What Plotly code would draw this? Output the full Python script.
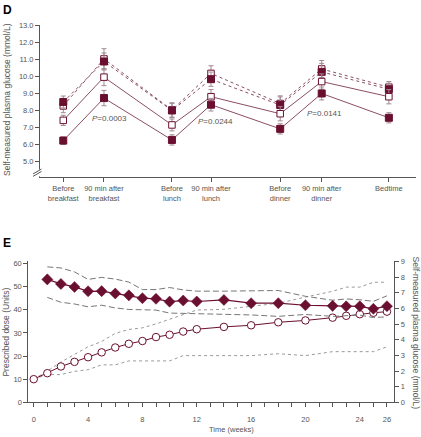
import plotly.graph_objects as go

# ---------------- Panel D data ----------------
meal_labels = ["Before<br>breakfast", "90 min after<br>breakfast", "Before<br>lunch",
               "90 min after<br>lunch", "Before<br>dinner", "90 min after<br>dinner", "Bedtime"]
meal_slot = [0, 1, 2.67, 3.63, 5.33, 6.35, 8.0]   # time-of-day scale positions

filled_solid = [6.22, 8.72, 6.26, 8.33, 6.91, 8.99, 7.56]
filled_solid_err = [0.22, 0.45, 0.30, 0.37, 0.30, 0.38, 0.30]
open_solid = [7.41, 9.95, 7.14, 8.80, 7.80, 9.69, 8.80]
open_solid_err = [0.30, 0.50, 0.35, 0.42, 0.42, 0.45, 0.42]
open_dashed = [8.26, 11.02, 8.02, 10.17, 8.40, 10.43, 9.36]
open_dashed_err = [0.40, 0.60, 0.42, 0.45, 0.45, 0.50, 0.33]
filled_dashed = [8.49, 10.87, 7.99, 9.83, 8.31, 10.26, 9.24]
filled_dashed_err = [0.35, 0.50, 0.42, 0.42, 0.48, 0.50, 0.35]

d_yticks = [5, 6, 7, 8, 9, 10, 11, 12, 13]
p_texts = ["<i>P</i>=0.0003", "<i>P</i>=0.0244", "<i>P</i>=0.0141"]
p_x = [0.66, 3.26, 5.93]
p_y = [7.52, 7.32, 7.82]

# ---------------- Panel E data ----------------
weeks_dose = [0, 1, 2, 3, 4, 5, 6, 7, 8, 9, 10, 11, 12, 14, 16, 18, 20, 22, 23, 24, 25, 26]
dose = [10, 12.6, 15.5, 17.5, 19.5, 21.6, 23.7, 25.3, 26.5, 28.2, 29.2, 30.6, 31.6,
        32.6, 33.3, 34.6, 35.4, 36.6, 37.4, 38.1, 38.7, 39.2]
dose_upper = [10, 13.5, 17.4, 20.7, 24.0, 26.3, 29.8, 31.5, 32.2, 33.9, 36.0, 38.1, 39.9,
              40.2, 41.5, 42.8, 45.5, 48.0, 49.8, 49.8, 51.9, 51.9]
dose_lower = [10, 12.0, 12.0, 13.4, 14.1, 16.2, 16.2, 17.9, 17.9, 17.9, 17.9, 20.2, 20.2,
              20.2, 20.2, 21.0, 20.2, 21.9, 21.9, 21.9, 21.9, 24.0]

weeks_glu = [1, 2, 3, 4, 5, 6, 7, 8, 9, 10, 11, 12, 14, 16, 18, 20, 22, 23, 24, 25, 26]
glucose = [7.85, 7.56, 7.37, 7.09, 7.10, 6.95, 6.83, 6.65, 6.61, 6.43, 6.50, 6.44,
           6.54, 6.33, 6.33, 6.20, 6.16, 6.13, 6.13, 5.97, 6.14]
glu_upper = [8.65, 8.58, 8.33, 7.85, 7.98, 7.87, 7.68, 7.20, 7.20, 7.33, 7.18, 7.10,
             7.10, 7.10, 7.14, 6.77, 6.52, 6.60, 6.55, 6.45, 6.80]
glu_lower = [6.70, 6.39, 6.28, 6.10, 6.20, 6.03, 5.93, 5.89, 5.89, 5.70, 5.68, 5.66,
             5.66, 5.58, 5.49, 5.61, 5.49, 5.52, 5.57, 5.41, 5.46]

e_xlabel_weeks = [0, 4, 8, 12, 16, 20, 24, 26]
e_week_ticks = list(range(0, 27))
dose_ticks = [0, 10, 20, 30, 40, 50, 60]
glu_ticks = [0, 1, 2, 3, 4, 5, 6, 7, 8, 9]

# ---------------- styles ----------------
MAROON = "#6a0f30"
LINE = "#7d3a52"
ERR = "#a08a93"
AX = "#555555"
TXT = "#555555"
FONT = "Liberation Sans, Arial, sans-serif"
W, H = 421, 437

def px(x):
    return x / W

def py(y):
    return 1 - y / H

fig = go.Figure()

def d_series(vals, errs, filled, dashed):
    fig.add_trace(go.Scatter(
        x=meal_slot, y=vals, mode="lines+markers",
        line=dict(color=LINE, width=0.9, dash="dot" if dashed else "solid"),
        marker=dict(symbol="square", size=7 if filled else 6.5,
                    color=MAROON if filled else "white",
                    line=dict(color=MAROON, width=1)),
        error_y=dict(type="data", array=errs, visible=True, color=ERR,
                     thickness=1, width=2.5),
        xaxis="x", yaxis="y", showlegend=False, hoverinfo="skip"))

d_series(open_dashed, open_dashed_err, False, True)
d_series(filled_dashed, filled_dashed_err, True, True)
d_series(open_solid, open_solid_err, False, False)
d_series(filled_solid, filled_solid_err, True, False)

# Panel E bands
fig.add_trace(go.Scatter(x=weeks_dose, y=dose_upper, mode="lines",
                         line=dict(color="#9a9a9a", width=1, dash="dot"),
                         xaxis="x2", yaxis="y2", showlegend=False))
fig.add_trace(go.Scatter(x=weeks_dose, y=dose_lower, mode="lines",
                         line=dict(color="#9a9a9a", width=1, dash="dot"),
                         xaxis="x2", yaxis="y2", showlegend=False))
fig.add_trace(go.Scatter(x=weeks_glu, y=glu_upper, mode="lines",
                         line=dict(color="#777777", width=1, dash="6px,3px"),
                         xaxis="x2", yaxis="y3", showlegend=False))
fig.add_trace(go.Scatter(x=weeks_glu, y=glu_lower, mode="lines",
                         line=dict(color="#777777", width=1, dash="6px,3px"),
                         xaxis="x2", yaxis="y3", showlegend=False))
fig.add_trace(go.Scatter(x=weeks_dose, y=dose, mode="lines+markers",
                         line=dict(color=MAROON, width=1),
                         marker=dict(symbol="circle", size=7.5, color="white",
                                     line=dict(color=MAROON, width=1)),
                         xaxis="x2", yaxis="y2", showlegend=False))
fig.add_trace(go.Scatter(x=weeks_glu, y=glucose, mode="lines+markers",
                         line=dict(color=MAROON, width=1.2),
                         marker=dict(symbol="diamond", size=8.5, color=MAROON,
                                     line=dict(color=MAROON, width=0.5)),
                         xaxis="x2", yaxis="y3", showlegend=False))

tickfont = dict(family=FONT, size=7.5, color=TXT)
common_axis = dict(showline=True, linecolor=AX, linewidth=1, ticks="outside",
                   tickcolor=AX, ticklen=4, tickwidth=1, showgrid=False,
                   zeroline=False, tickfont=tickfont)

fig.update_layout(
    width=W, height=H, margin=dict(l=0, r=0, t=0, b=0),
    paper_bgcolor="white", plot_bgcolor="white",
    font=dict(family=FONT, color=TXT),
    xaxis=dict(domain=[px(40), px(416)], range=[-0.572, 8.667], anchor="y",
               tickvals=meal_slot, ticktext=meal_labels, **common_axis),
    yaxis=dict(domain=[py(177), py(21.7)], range=[4.06, 13.0], anchor="x",
               tickvals=d_yticks, ticktext=["%.1f" % v for v in d_yticks],
               **common_axis),
    xaxis2=dict(domain=[px(28.3), px(394.3)], range=[-0.40, 26.54], anchor="y2",
                tickvals=e_week_ticks,
                ticktext=[str(w) if w in e_xlabel_weeks else "" for w in e_week_ticks],
                ticklabelstandoff=6, **common_axis),
    yaxis2=dict(domain=[py(406.7), py(262)], range=[0, 61.26], anchor="x2",
                tickvals=dose_ticks, **common_axis),
    yaxis3=dict(overlaying="y2", side="right", range=[0, 9.05], anchor="x2",
                tickvals=glu_ticks, **common_axis),
)

def label(text, x, y, size, color=TXT, angle=0, xanchor="center"):
    return dict(text=text, x=px(x), y=py(y), xref="paper", yref="paper",
                xanchor=xanchor, yanchor="middle", textangle=angle, showarrow=False,
                font=dict(family=FONT, size=size, color=color))

ann = [
    label("<b>D</b>", 1, 6.5, 12, "black", xanchor="left"),
    label("<b>E</b>", 1, 244, 12, "black", xanchor="left"),
    label("Self-measured plasma glucose (mmol/L)", 7, 98, 8.5, angle=-90),
    label("Prescribed dose (Units)", 6.5, 335, 8.5, angle=-90),
    label("Self-measured plasma glucose (mmol/L)", 415.5, 336, 8.5, angle=90),
    label("Time (weeks)", 231, 434.5, 7.5),
]
for t, xv, yv in zip(p_texts, p_x, p_y):
    ann.append(dict(text=t, x=xv, y=yv, xref="x", yref="y", xanchor="left",
                    yanchor="middle", showarrow=False,
                    font=dict(family=FONT, size=8, color=TXT)))
fig.update_layout(annotations=ann)

# axis break mark on panel D's y axis
shapes = [
    dict(type="rect", x0=px(37), x1=px(42), y0=py(176), y1=py(169), xref="paper",
         yref="paper", fillcolor="white", line=dict(width=0)),
    dict(type="line", x0=px(33), y0=py(173.5), x1=px(41.5), y1=py(168.5),
         xref="paper", yref="paper", line=dict(color=AX, width=1)),
    dict(type="line", x0=px(33), y0=py(176), x1=px(41.5), y1=py(171),
         xref="paper", yref="paper", line=dict(color=AX, width=1)),
]
fig.update_layout(shapes=shapes)

# remove the browser's default 8px body margin so the figure sits at the page origin
fig.write_html("out.html", config={"displayModeBar": False},
               post_script="document.body.style.margin='0px';document.body.style.overflow='hidden';")
